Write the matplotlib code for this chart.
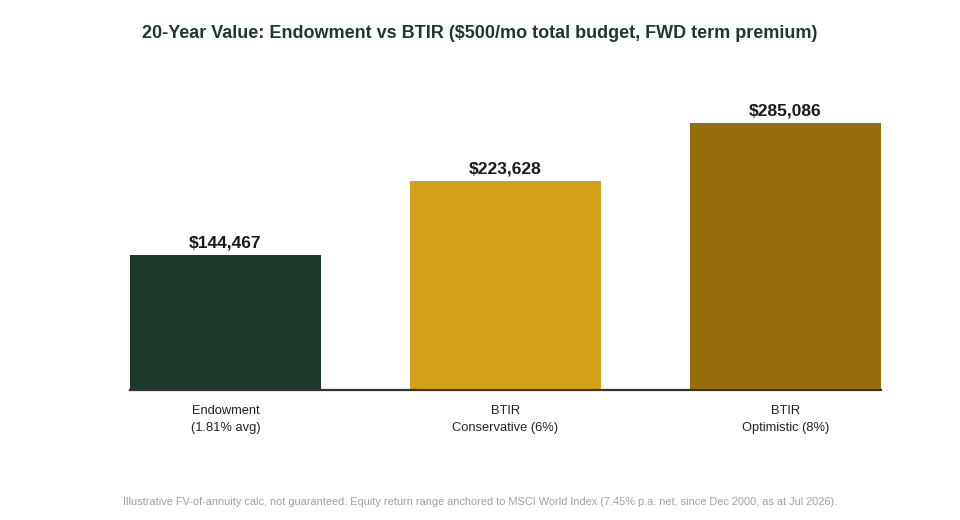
import matplotlib
matplotlib.use('Agg')
import matplotlib.pyplot as plt

plt.rcParams['font.family'] = ['Liberation Sans', 'DejaVu Sans']

# Daten
categories = ['Endowment\n(1.81% avg)', 'BTIR\nConservative (6%)', 'BTIR\nOptimistic (8%)']
values = [144467, 223628, 285086]
bar_colors = ['#1b3a2c', '#d4a017', '#966e0e']

fig = plt.figure(figsize=(9.6, 5.2), dpi=100)
ax = fig.add_axes([130 / 960, 130 / 520, 751 / 960, 307 / 520])

x = list(range(len(values)))
ax.bar(x, values, width=0.682, color=bar_colors)

# Werte über den Balken
for xi, v in zip(x, values):
    ax.text(xi, v + 4500, f'${v:,.0f}', ha='center', va='bottom',
            fontsize=12.5, fontweight='bold', color='#1a1a1a')

ax.set_xlim(-0.5 + 0.159, len(values) - 0.5 - 0.159)
ax.set_ylim(0, max(values) * 1.15)
ax.set_xticks(x)
ax.set_xticklabels(categories, fontsize=9.3, color='#222222', linespacing=1.5)
ax.tick_params(axis='x', length=0, pad=11)
ax.set_yticks([])

for s in ['top', 'right', 'left']:
    ax.spines[s].set_visible(False)
ax.spines['bottom'].set_color('#333333')
ax.spines['bottom'].set_linewidth(1.6)

fig.text(480 / 960, 1 - 33 / 520,
         '20-Year Value: Endowment vs BTIR ($500/mo total budget, FWD term premium)',
         ha='center', va='center', fontsize=13, fontweight='bold', color='#1b3a2c')

fig.text(480 / 960, 1 - 502 / 520,
         'Illustrative FV-of-annuity calc, not guaranteed. Equity return range anchored to MSCI World Index '
         '(7.45% p.a. net, since Dec 2000, as at Jul 2026).',
         ha='center', va='center', fontsize=7.9, color='#a0a0a0')

fig.savefig('out.png', dpi=100)
